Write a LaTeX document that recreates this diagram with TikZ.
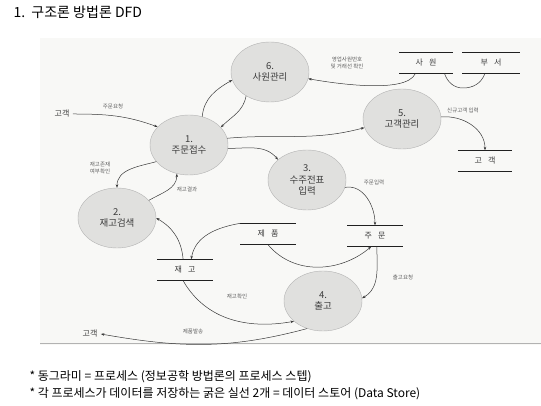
\documentclass[tikz,border=0pt]{standalone}
\usepackage{fontspec}
\setmainfont{Noto Sans CJK KR}
\usetikzlibrary{arrows.meta,positioning,shapes.geometric}
\definecolor{ink}{RGB}{60,60,60}
\definecolor{bubble}{RGB}{224,224,222}
\definecolor{paper}{RGB}{248,248,246}

\begin{document}
\begin{tikzpicture}[x=1pt, y=1pt,
  proc/.style={ellipse, draw=gray!60, fill=bubble, minimum width=78pt, minimum height=60pt, inner sep=0pt, align=center, text=ink, font=\fontsize{9.5}{11.5}\selectfont},
  store/.style={minimum width=#1, minimum height=21pt, inner sep=0pt, text=ink, font=\fontsize{8}{9}\selectfont},
  storeline/.style={line width=1.3pt, gray!25!black},
  ext/.style={text=ink, font=\fontsize{8}{9}\selectfont},
  lbl/.style={text=gray!75!black, align=center, font=\fontsize{5.5}{6.5}\selectfont},
  flow/.style={line width=0.5pt, gray!45!black},
  arr/.style={flow, -{Stealth[length=3.5pt,width=2.6pt]}}
]
\useasboundingbox (0,0) rectangle (541,406);
% scanned page
\fill[paper] (40,61) rectangle (541,368);
\draw[gray!60, line width=1pt] (40,62) -- (541,62);

\node[anchor=west, font=\fontsize{14}{16}\selectfont] (title) at (10,394) {1.\ \ 구조론 방법론 DFD};

% processes
\node[proc] (p6) at (270,334) {6.\\사원관리};
\node[proc] (p1) at (189,261) {1.\\주문접수};
\node[proc] (p2) at (117,188) {2.\\재고검색};
\node[proc] (p3) at (307,226) {3.\\수주전표\\입력};
\node[proc] (p5) at (402,287) {5.\\고객관리};
\node[proc] (p4) at (323,105) {4.\\출고};

% data stores
\node[store=53pt] (sawon) at (426,343) {사\hspace{6pt}원};
\node[store=57pt] (buseo) at (491,343) {부\hspace{6pt}서};
\node[store=54pt] (custstore) at (485,245) {고\hspace{6pt}객};
\node[store=55pt] (jepum) at (268,172) {제\hspace{6pt}품};
\node[store=55pt] (jumun) at (375,170) {주\hspace{6pt}문};
\node[store=55pt] (jaego) at (185,136) {재\hspace{6pt}고};
\foreach \s in {sawon,buseo,custstore,jepum,jumun,jaego}
  \draw[storeline] (\s.north west) -- (\s.north east) (\s.south west) -- (\s.south east);

% external entities
\node[ext] (cust1) at (62,292) {고객};
\node[ext] (cust2) at (90,72) {고객};

% flows
\draw[arr] (cust1.east) to[out=0, in=160] (p1.150);
\draw[arr] (p1.65) to[out=85, in=210] (p6.192);
\draw[arr] (p6.225) to[out=-100, in=45] (p1.29);
\draw[arr] (p1.10) to[out=5, in=195] (p5.193);
\draw[arr] (p1.-5) to[out=0, in=130] (p3.145);
\draw[arr] (p1.207) to[out=195, in=90] (p2.north);
\draw[arr] (p2.29) to[out=30, in=-90] (p1.247);
\draw[arr] (jepum.north west) to[out=190, in=80] (jaego.60);
\draw[arr] (jaego.100) to[out=95, in=-30] (p2.0);
\draw[arr] (jepum.south) to[out=-50, in=220] (jumun.250);
\draw[arr] (p3.-11) to[out=10, in=90] (jumun.north);
\draw[arr] (jumun.-80) to[out=-90, in=30] (p4.4);
\draw[arr] (jaego.-100) to[out=-60, in=190] (p4.215);
\draw[arr] (p4.240) to[out=195, in=-10] (cust2.east);
\draw[arr] (sawon.-135) to[out=-115, in=-10, looseness=0.55] (p6.-10);
\coordinate (dip) at (463,318);
\draw[flow] (sawon.-30) to[out=-70, in=180] (dip) to[out=0, in=-110] (buseo.-120);
\draw[arr] (p5.3) to[out=5, in=90] (custstore.north);

% flow labels
\node[lbl] (l1) at (113,300) {주문요청};
\node[lbl] (l2) at (100,238) {재고존재\\여부확인};
\node[lbl] (l3) at (187,217) {재고결과};
\node[lbl] (l4) at (347,343) {영업사원번호\\및 거래선 확인};
\node[lbl] (l5) at (463,296) {신규고객 입력};
\node[lbl] (l6) at (374,224) {주문입력};
\node[lbl] (l7) at (403,129) {출고요청};
\node[lbl] (l8) at (237,110) {재고확인};
\node[lbl] (l9) at (193,75) {제품발송};

% notes
\node[anchor=west, font=\fontsize{12}{14}\selectfont] (n1) at (26,29) {* 동그라미 = 프로세스 (정보공학 방법론의 프로세스 스텝)};
\node[anchor=west, font=\fontsize{12}{14}\selectfont] (n2) at (26,12) {* 각 프로세스가 데이터를 저장하는 굵은 실선 2개 = 데이터 스토어 (Data Store)};
\end{tikzpicture}
\end{document}
